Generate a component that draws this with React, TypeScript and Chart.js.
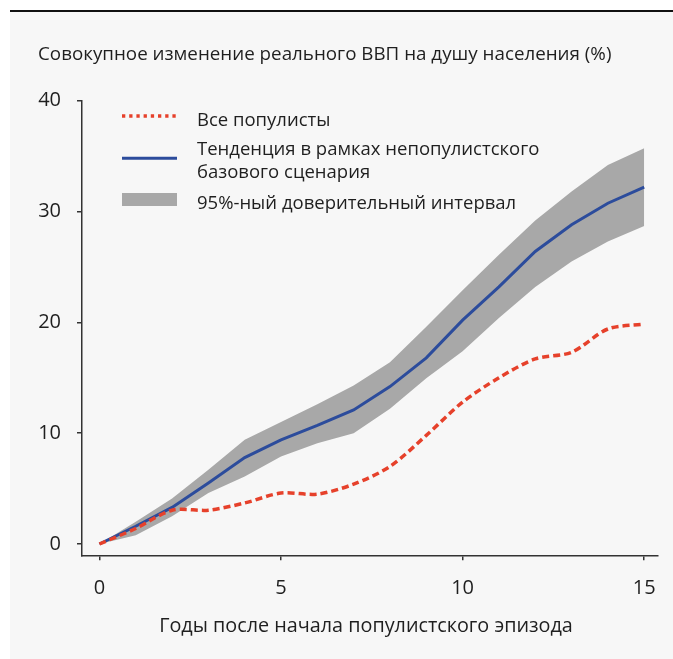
import { useEffect, useRef } from 'react';
import { Chart, registerables } from 'chart.js';

Chart.register(...registerables);

// ---- Data ----
const YEARS = [0, 1, 2, 3, 4, 5, 6, 7, 8, 9, 10, 11, 12, 13, 14, 15];
const ALL_POPULISTS = [0, 1.4, 3.05, 3.05, 3.7, 4.6, 4.5, 5.4, 7.0, 9.8, 12.8, 15.0, 16.7, 17.3, 19.4, 19.85];
const BASELINE = [0, 1.6, 3.3, 5.5, 7.8, 9.4, 10.7, 12.1, 14.2, 16.8, 20.2, 23.2, 26.4, 28.8, 30.75, 32.2];
const CI_UPPER = [0, 2.0, 4.1, 6.7, 9.4, 11.0, 12.6, 14.3, 16.4, 19.6, 22.9, 26.1, 29.2, 31.8, 34.2, 35.7];
const CI_LOWER = [0, 0.8, 2.5, 4.6, 6.1, 7.9, 9.1, 10.0, 12.2, 14.95, 17.4, 20.4, 23.2, 25.5, 27.3, 28.7];
const X_TICKS = [0, 5, 10, 15];
const Y_TICKS = [0, 10, 20, 30, 40];

const SERIES_LABELS = [
  'Все популисты',
  'Тенденция в рамках непопулистского\nбазового сценария',
  '95%-ный доверительный интервал',
];
const Y_TITLE = 'Совокупное изменение реального ВВП на душу населения (%)';
const X_TITLE = 'Годы после начала популистского эпизода';

// ---- Styles ----
const FONT = '"Open Sans", sans-serif';
const TEXT = '#1f1f1f';
const AXIS = '#333333';
const RED = '#e6412b';
const BLUE = '#2c4c9c';
const GRAY = '#a8a8a8';

const textPlugin = {
  id: 'texts',
  afterDraw(chart: any) {
    const ctx = chart.ctx as CanvasRenderingContext2D;
    ctx.save();
    ctx.fillStyle = TEXT;
    ctx.font = `18.8px ${FONT}`;
    ctx.textBaseline = 'middle';
    ctx.textAlign = 'left';
    ctx.fillText(Y_TITLE, 38, 55);
    ctx.font = `19.8px ${FONT}`;
    ctx.textAlign = 'center';
    ctx.fillText(X_TITLE, 366, 626);

    // legend
    const ds = chart.data.datasets;
    const sx0 = 122, sx1 = 177, tx = 197;
    ctx.strokeStyle = ds[0].borderColor;
    ctx.lineWidth = 3.3;
    ctx.setLineDash([3.3, 3.9]);
    ctx.beginPath();
    ctx.moveTo(sx0, 116);
    ctx.lineTo(sx1, 116);
    ctx.stroke();
    ctx.setLineDash([]);
    ctx.strokeStyle = ds[1].borderColor;
    ctx.lineWidth = 3;
    ctx.beginPath();
    ctx.moveTo(sx0, 158.3);
    ctx.lineTo(sx1, 158.3);
    ctx.stroke();
    ctx.fillStyle = ds[2].backgroundColor;
    ctx.fillRect(sx0, 193, sx1 - sx0, 13);

    ctx.fillStyle = TEXT;
    ctx.font = `18.5px ${FONT}`;
    ctx.textAlign = 'left';
    ctx.fillText(ds[0].label, tx, 120.5);
    const lines = String(ds[1].label).split('\n');
    lines.forEach((l, i) => ctx.fillText(l, tx, 150 + i * 22.7));
    ctx.fillText(ds[2].label, tx, 204);
    ctx.restore();
  },
};

export default function App() {
  const ref = useRef<HTMLCanvasElement>(null);

  useEffect(() => {
    const pts = (arr: number[]) => YEARS.map((x, i) => ({ x, y: arr[i] }));
    const chart = new Chart(ref.current!, {
      type: 'line',
      data: {
        datasets: [
          {
            label: SERIES_LABELS[0],
            data: pts(ALL_POPULISTS),
            borderColor: RED,
            borderWidth: 3.5,
            borderDash: [7, 4],
            pointRadius: 0,
            fill: false,
            tension: 0.3,
          },
          {
            label: SERIES_LABELS[1],
            data: pts(BASELINE),
            borderColor: BLUE,
            borderWidth: 3,
            pointRadius: 0,
            fill: false,
            tension: 0,
          },
          {
            label: SERIES_LABELS[2],
            data: pts(CI_UPPER),
            borderColor: 'rgba(0,0,0,0)',
            borderWidth: 0,
            backgroundColor: GRAY,
            pointRadius: 0,
            fill: '+1',
            tension: 0,
          },
          {
            label: '',
            data: pts(CI_LOWER),
            borderColor: 'rgba(0,0,0,0)',
            borderWidth: 0,
            pointRadius: 0,
            fill: false,
            tension: 0,
          },
        ],
      },
      options: {
        responsive: false,
        animation: false,
        layout: { padding: { top: 100.7, right: 15, left: 0, bottom: 0 } },
        plugins: {
          legend: { display: false },
          tooltip: { enabled: false },
          title: { display: false },
        },
        scales: {
          x: {
            type: 'linear',
            min: -0.48,
            max: 15.38,
            afterBuildTicks: (s: any) => {
              s.ticks = X_TICKS.map((v) => ({ value: v }));
            },
            afterFit: (s: any) => {
              s.height = 103.7;
            },
            ticks: {
              font: { family: FONT, size: 20 },
              color: TEXT,
              padding: 16,
              maxRotation: 0,
              autoSkip: false,
            },
            grid: { drawOnChartArea: false, drawTicks: true, tickLength: 5, color: AXIS, lineWidth: 1.5 },
            border: { display: true, color: AXIS, width: 1.5 },
          },
          y: {
            type: 'linear',
            min: -1.02,
            max: 40,
            afterBuildTicks: (s: any) => {
              s.ticks = Y_TICKS.map((v) => ({ value: v }));
            },
            afterFit: (s: any) => {
              s.width = 82;
            },
            ticks: {
              font: { family: FONT, size: 20 },
              color: TEXT,
              padding: 16,
              autoSkip: false,
            },
            grid: { drawOnChartArea: false, drawTicks: true, tickLength: 5, color: AXIS, lineWidth: 1.5 },
            border: { display: true, color: AXIS, width: 1.5 },
          },
        },
      },
      plugins: [textPlugin],
    });
    return () => chart.destroy();
  }, []);

  return (
    <div style={{ position: 'fixed', left: 0, top: 0, width: 673, height: 659 }}>
      <div
        style={{
          position: 'absolute',
          left: 10,
          top: 10,
          right: 0,
          bottom: 0,
          background: '#f7f7f7',
          borderTop: '2px solid #111',
        }}
      />
      <canvas
        ref={ref}
        width={673}
        height={659}
        style={{ position: 'absolute', left: 0, top: 0, width: 673, height: 659 }}
      />
    </div>
  );
}
